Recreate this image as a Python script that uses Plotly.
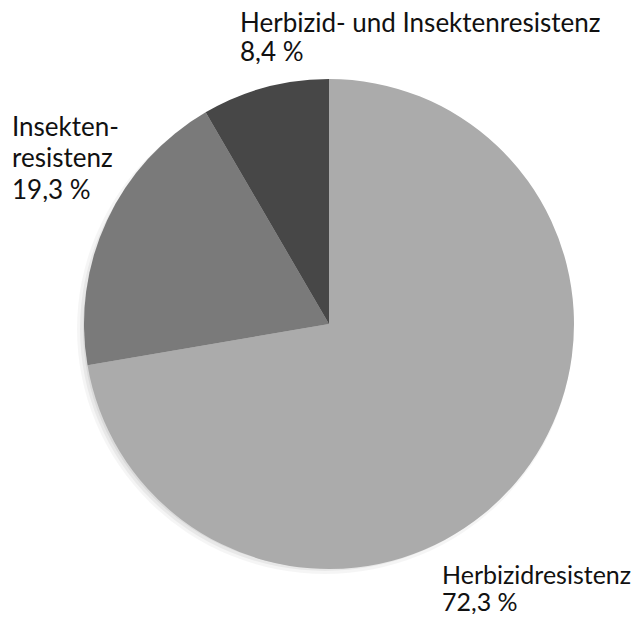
import plotly.graph_objects as go

# Anteile gentechnisch veränderter Pflanzen nach Eigenschaft
labels = ["Herbizidresistenz", "Insektenresistenz", "Herbizid- und Insektenresistenz"]
values = [72.3, 19.3, 8.4]
colors = ["#ababab", "#7a7a7a", "#474747"]
# Beschriftungen, Zeile für Zeile
label_lines = [
    ["Herbizidresistenz", "72,3 %"],
    ["Insekten-", "resistenz", "19,3 %"],
    ["Herbizid- und Insektenresistenz", "8,4 %"],
]

W, H = 636, 617
FONT = "Lato, 'Open Sans', sans-serif"

fig = go.Figure()

fig.add_trace(go.Pie(
    labels=labels,
    values=values,
    sort=False,
    direction="clockwise",
    rotation=0,
    marker=dict(colors=colors, line=dict(width=0)),
    textinfo="none",
    hoverinfo="label+percent",
    showlegend=False,
    domain=dict(x=[84 / W, 574 / W], y=[1 - 569 / H, 1 - 79 / H]),
))

# weicher Schatten hinter dem Kreis
for i, a in enumerate([0.04, 0.05, 0.06]):
    g = 3 + 3 * i
    fig.add_shape(
        type="circle", xref="paper", yref="paper", layer="below",
        x0=(84 - 10 + g) / W, x1=(574 + 2 - g) / W,
        y0=1 - (569 + 8 - g) / H, y1=1 - (79 + 2 + g) / H,
        fillcolor=f"rgba(0,0,0,{a})", line=dict(width=0),
    )

# Position (links, Zeilenmitte jeder Zeile) in Pixeln, Schriftgröße
label_pos = [
    (440, [574, 601], 25),
    (10, [126, 157, 189], 26),
    (238, [22, 51], 26),
]
for lines, (px, mids, size) in zip(label_lines, label_pos):
    for line, mid in zip(lines, mids):
        fig.add_annotation(
            xref="paper", yref="paper", x=px / W, y=1 - mid / H,
            xanchor="left", yanchor="middle", align="left",
            height=26, text=line, showarrow=False,
            font=dict(family=FONT, size=size, color="#111111"),
        )

fig.update_layout(
    width=W, height=H,
    margin=dict(l=0, r=0, t=0, b=0),
    paper_bgcolor="white",
    plot_bgcolor="white",
)

fig.write_html("out.html", config={"displayModeBar": False},
               post_script="document.body.style.margin='0';")
